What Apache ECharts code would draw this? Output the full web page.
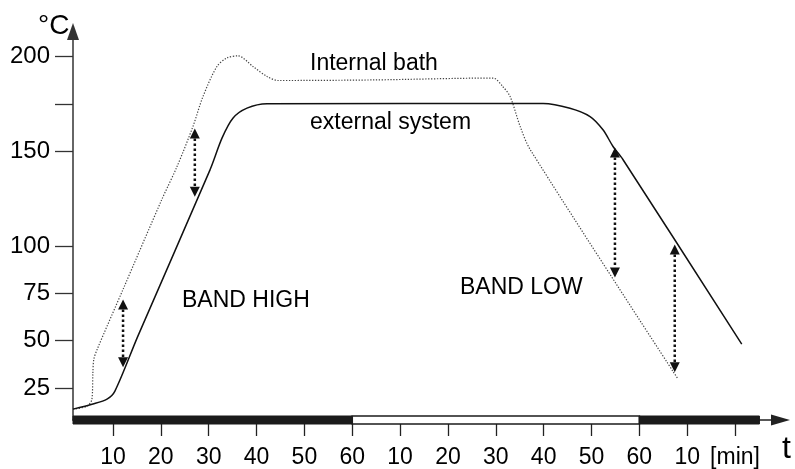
<!DOCTYPE html>
<html>
<head>
<meta charset="utf-8">
<script src="https://cdn.jsdelivr.net/npm/echarts@6/dist/echarts.min.js"></script>
<style>
  html, body { margin: 0; padding: 0; background: #fff; }
  #chart { width: 795px; height: 469px; }
</style>
</head>
<body>
<div id="chart"></div>
<script>
// time axis: cumulative minutes, labels restart every 60 min
const tickMinutes = [10, 20, 30, 40, 50, 60, 70, 80, 90, 100, 110, 120, 130, 140]
const tickLabels = ['10', '20', '30', '40', '50', '60', '10', '20', '30', '40', '50', '60', '10', '[min]']

// temperature axis
const tempTicks = [25, 50, 75, 100, 150, 175, 200]
const tempLabels = [25, 50, 75, 100, 150, 200]

// internal bath (dotted)
const bathTime = [1.64, 4.6, 5.6, 5.8, 6.0, 6.7, 12.1, 20.2, 23.4, 26.7, 28.8, 31.7, 33.8, 36.1, 39.3, 42.2, 44.5, 64.3, 89.4, 91.5, 93.0, 95.1, 97.2, 128.1]
const bathTemp = [13.9, 15.5, 19.2, 33.4, 40.3, 45.5, 77.1, 124.5, 142, 163, 178.8, 194.6, 199.2, 200.3, 194.6, 189.4, 187.3, 187.6, 188.6, 184, 178.8, 163, 150.8, 29.7]

// external system (solid)
const sysTime = [1.64, 5.8, 8.75, 10.4, 15.2, 30.3, 32.8, 35.1, 38.0, 42.2, 99.9, 105.5, 109.7, 112.4, 114.5, 116.6, 141.4]
const sysTemp = [13.9, 16.6, 19.2, 23.4, 52.4, 140.3, 157, 167.5, 172.7, 175, 175.2, 172.7, 168.3, 161.3, 152.5, 145.5, 48.2]

// double arrows (band width)
const arrowTime = [12.1, 27.1, 114.9, 127.4]
const arrowTop = [71.8, 162, 152, 100.8]
const arrowBottom = [36, 126, 83.4, 33.4]

// time band along the axis: 1 = dark, 0 = light
const bandStart = [1.64, 60, 120]
const bandEnd = [60, 120, 145.1]
const bandDark = [1, 0, 1]

const xMin = 1.64, xMax = 149.5
const yMin = 8.16, yMax = 213.16
const font = '"Liberation Sans", Arial, sans-serif'

const chart = echarts.init(document.getElementById('chart'))

const option = {
  animation: false,
  grid: { left: 73, right: 14.5, top: 31.5, bottom: 48 },
  xAxis: {
    type: 'value',
    min: xMin,
    max: xMax,
    splitLine: { show: false },
    axisLine: {
      show: true,
      symbol: ['none', 'triangle'],
      symbolSize: [11, 19],
      lineStyle: { color: '#222', width: 1.5 }
    },
    axisTick: {
      show: true,
      length: 16,
      customValues: tickMinutes,
      lineStyle: { color: '#222', width: 1.3 }
    },
    axisLabel: {
      margin: 26,
      customValues: tickMinutes,
      color: '#000',
      fontFamily: font,
      fontSize: 23,
      formatter: v => tickLabels[tickMinutes.indexOf(Math.round(v))]
    }
  },
  yAxis: {
    type: 'value',
    min: yMin,
    max: yMax,
    splitLine: { show: false },
    axisLine: {
      show: true,
      symbol: ['none', 'triangle'],
      symbolSize: [12, 17],
      lineStyle: { color: '#333', width: 1.5 }
    },
    axisTick: {
      show: true,
      length: 18,
      customValues: tempTicks,
      lineStyle: { color: '#333', width: 1.3 }
    },
    axisLabel: {
      margin: 23,
      customValues: tempLabels,
      color: '#000',
      fontFamily: font,
      fontSize: 24
    }
  },
  series: [
    {
      name: 'Internal bath',
      type: 'line',
      data: bathTime.map((t, i) => [t, bathTemp[i]]),
      showSymbol: false,
      smooth: 0.3,
      lineStyle: { color: '#444', width: 1.2, type: [1.3, 1.6] },
      z: 3
    },
    {
      name: 'external system',
      type: 'line',
      data: sysTime.map((t, i) => [t, sysTemp[i]]),
      showSymbol: false,
      smooth: 0.3,
      lineStyle: { color: '#111', width: 1.5 },
      z: 3
    },
    {
      name: 'band',
      type: 'custom',
      z: 4,
      data: bandStart.map((s, i) => [s, bandEnd[i], bandDark[i]]),
      renderItem: (params, api) => {
        const p0 = api.coord([api.value(0), yMin])
        const p1 = api.coord([api.value(1), yMin])
        const dark = api.value(2) === 1
        return {
          type: 'rect',
          shape: { x: p0[0], y: p0[1] - 4, width: p1[0] - p0[0], height: 8 },
          style: dark
            ? { fill: '#1b1b1b', stroke: '#1b1b1b', lineWidth: 1 }
            : { fill: '#fff', stroke: '#1b1b1b', lineWidth: 1.6 }
        }
      }
    },
    {
      name: 'arrows',
      type: 'custom',
      z: 5,
      data: arrowTime.map((t, i) => [t, arrowTop[i], arrowBottom[i]]),
      renderItem: (params, api) => {
        const top = api.coord([api.value(0), api.value(1)])
        const bot = api.coord([api.value(0), api.value(2)])
        const x = top[0], h = 10, w = 5
        return {
          type: 'group',
          children: [
            {
              type: 'line',
              shape: { x1: x, y1: top[1] + h, x2: x, y2: bot[1] - h },
              style: { stroke: '#111', lineWidth: 2.5, lineDash: [2.5, 2.5] }
            },
            {
              type: 'polygon',
              shape: { points: [[x, top[1]], [x - w, top[1] + h], [x + w, top[1] + h]] },
              style: { fill: '#111' }
            },
            {
              type: 'polygon',
              shape: { points: [[x, bot[1]], [x - w, bot[1] - h], [x + w, bot[1] - h]] },
              style: { fill: '#111' }
            }
          ]
        }
      }
    }
  ],
  graphic: [
    { type: 'text', left: 38, top: 12, style: { text: '°C', font: '28px ' + font, fill: '#000' } },
    { type: 'text', left: 782, top: 433, style: { text: 't', font: '32px ' + font, fill: '#000' } },
    { type: 'text', left: 310, top: 52, style: { text: 'Internal bath', font: '23px ' + font, fill: '#000' } },
    { type: 'text', left: 310, top: 111, style: { text: 'external system', font: '23px ' + font, fill: '#000' } },
    { type: 'text', left: 182, top: 289, style: { text: 'BAND HIGH', font: '23px ' + font, fill: '#000' } },
    { type: 'text', left: 460, top: 276, style: { text: 'BAND LOW', font: '23px ' + font, fill: '#000' } }
  ]
}

chart.setOption(option)
</script>
</body>
</html>
